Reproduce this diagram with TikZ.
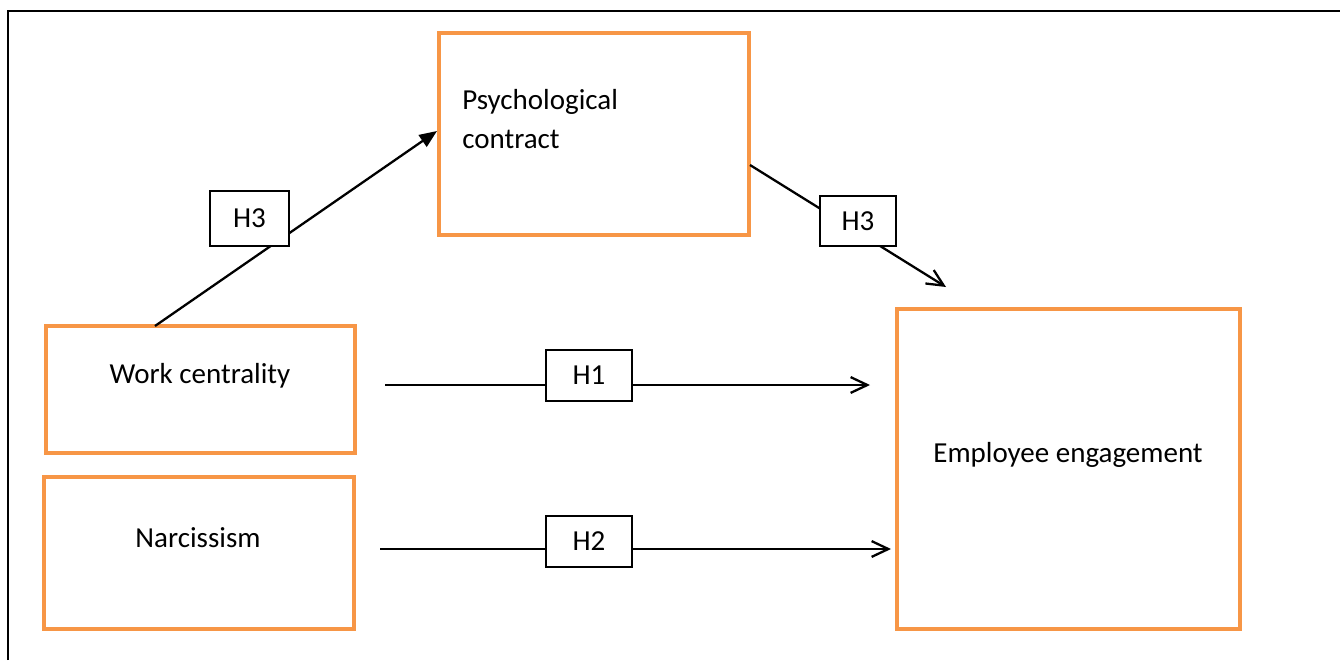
\documentclass[tikz,border=0pt]{standalone}
\usepackage{fontspec}
\setmainfont{Carlito}
\usetikzlibrary{arrows.meta}
\definecolor{accentorange}{HTML}{F79646}
\begin{document}
\begin{tikzpicture}[x=0.02cm, y=-0.02cm,
	font=\fontsize{16.5}{21.5}\selectfont,
	factor/.style={draw=accentorange, line width=2.3pt},
	hyp/.style={draw, fill=white, line width=0.85pt, inner sep=0pt},
	link/.style={line width=1.3pt},
	open/.style={-{Straight Barb[length=9.5pt, width=9pt, line width=1.3pt]}},
	solid tip/.style={-{Triangle[length=10pt, width=8pt]}}]
	\useasboundingbox (0,0) rectangle (1340,660);
	\draw[line width=1.6pt] (8,660) -- (8,11) -- (1340,11);

	% variables
	\node (pc) at (594,134) [factor, minimum width=6.2cm, minimum height=4.04cm] {};
	\node (wc) at (200.5,389.5) [factor, minimum width=6.18cm, minimum height=2.54cm] {};
	\node (nar) at (199,553) [factor, minimum width=6.2cm, minimum height=3.04cm] {};
	\node (ee) at (1068.5,469) [factor, minimum width=6.86cm, minimum height=6.4cm] {};

	\node (pctext) at (462,119) [anchor=west, align=left, inner sep=0pt, font=\fontsize{16.5}{22.7}\selectfont] {Psychological\\contract};
	\node (wctext) at (200,376) {Work centrality};
	\node (nartext) at (198,538) {Narcissism};
	\node (eetext) at (1068,455) {Employee engagement};

	% connector ends
	\coordinate (wcout) at (155,326);
	\coordinate (pcin) at (437,131);
	\coordinate (pcout) at (750,165);
	\coordinate (eein) at (946,287);
	\coordinate (wcright) at (385,385);
	\coordinate (eeleft) at (870,385);
	\coordinate (narright) at (380,549);
	\coordinate (eelow) at (891,549);

	\draw[link, solid tip] (wcout) -- (pcin);
	\draw[link, open] (pcout) -- (eein);
	\draw[link, open] (wcright) -- (eeleft);
	\draw[link, open] (narright) -- (eelow);

	% hypotheses
	\node (h3a) at (249.5,218.5) [hyp, minimum width=1.58cm, minimum height=1.1cm] {H3};
	\node (h3b) at (858,221) [hyp, minimum width=1.52cm, minimum height=1cm] {H3};
	\node (h1) at (589,375.5) [hyp, minimum width=1.72cm, minimum height=1.02cm] {H1};
	\node (h2) at (589,541.5) [hyp, minimum width=1.72cm, minimum height=1.02cm] {H2};
\end{tikzpicture}
\end{document}
